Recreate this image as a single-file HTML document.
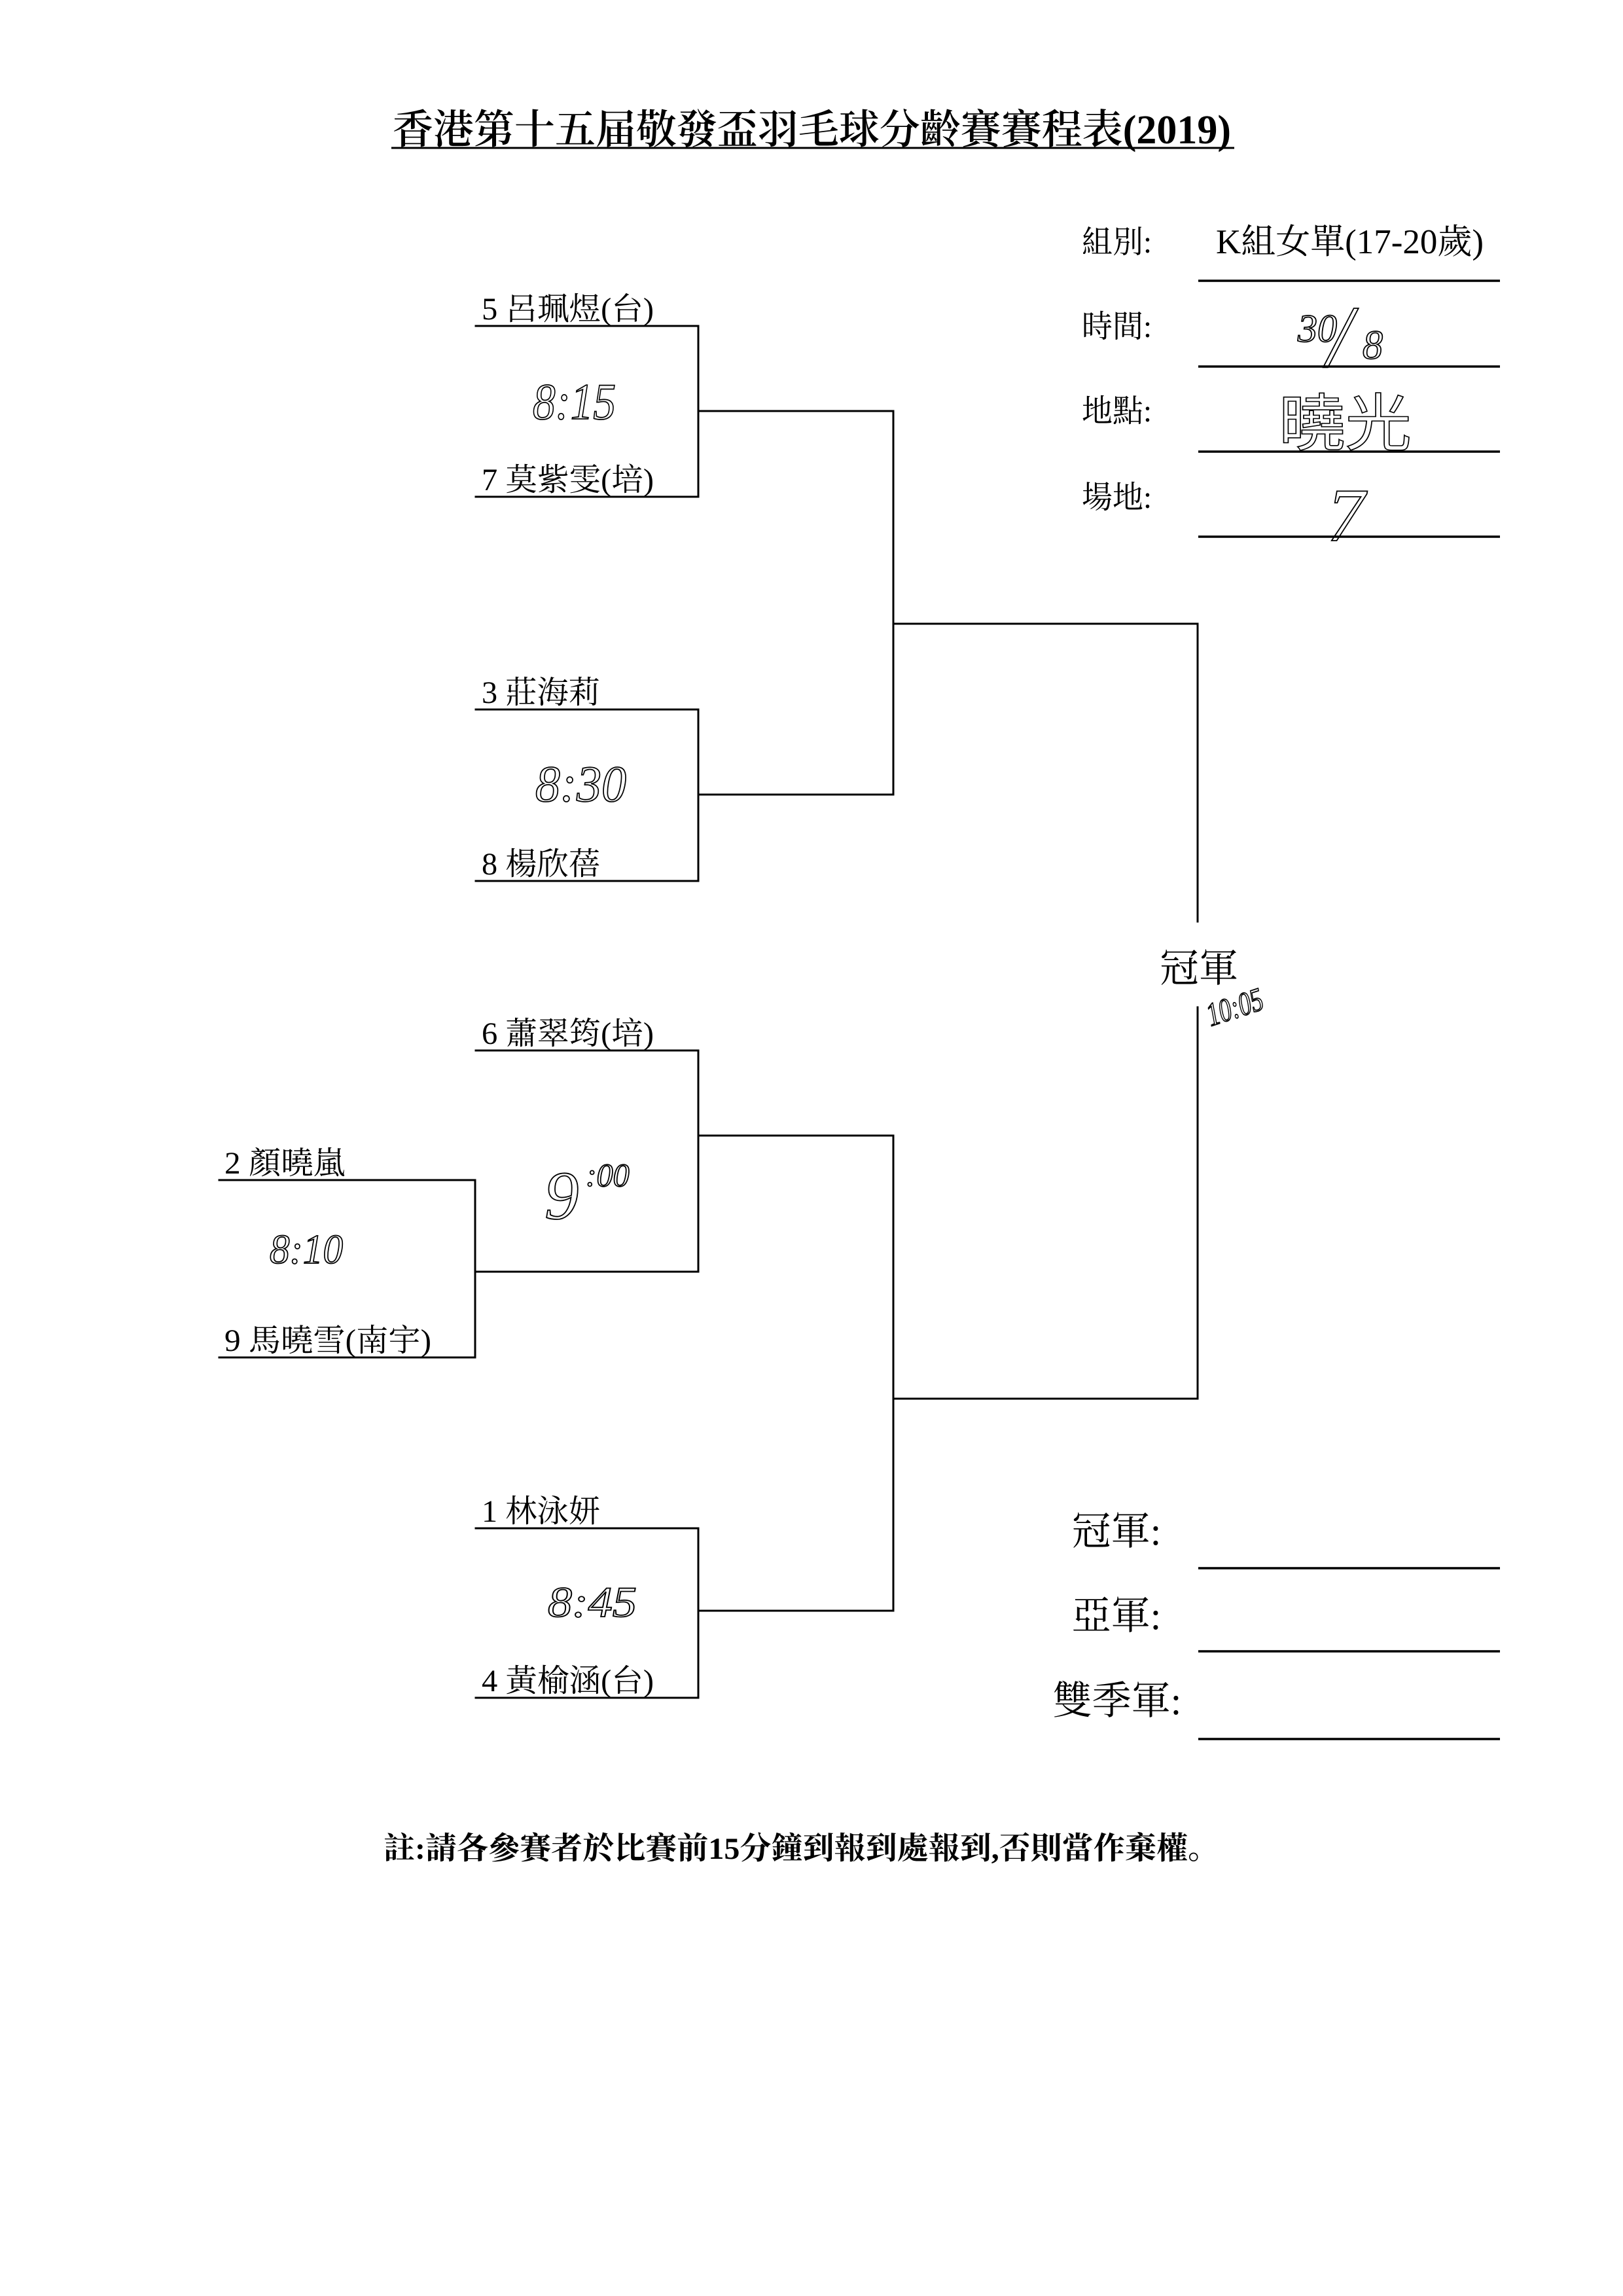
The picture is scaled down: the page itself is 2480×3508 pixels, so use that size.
<!DOCTYPE html>
<html>
<head>
<meta charset="utf-8">
<style>
  html, body { margin: 0; padding: 0; background: #fff; }
  body { width: 2480px; height: 3508px; overflow: hidden; }
  svg { display: block; }
  .t { font-family: "Liberation Serif", "Noto Serif CJK SC", "Noto Serif CJK TC", serif; fill: #000; }
  .hw { font-family: "Liberation Serif", serif; font-style: italic; fill: none; stroke: #000; stroke-width: 1.8; }
  .hwc { font-family: "Noto Sans CJK TC", "Noto Sans CJK SC", sans-serif; fill: none; stroke: #000; stroke-width: 1.6; }
</style>
</head>
<body>
<svg width="2480" height="3508" viewBox="0 0 2480 3508" xmlns="http://www.w3.org/2000/svg">
  <rect x="0" y="0" width="2480" height="3508" fill="#fff"/>

  <!-- Title -->
  <text class="t" x="600" y="219" font-size="62" font-weight="600" textLength="1281" lengthAdjust="spacingAndGlyphs">香港第十五届敬發盃羽毛球分齡賽賽程表(2019)</text>
  <line x1="598" y1="226" x2="1886" y2="226" stroke="#000" stroke-width="3"/>

  <!-- Info labels -->
  <text class="t" x="1653" y="386" font-size="48" textLength="107" lengthAdjust="spacingAndGlyphs">組別:</text>
  <text class="t" x="1858" y="387" font-size="53" textLength="409" lengthAdjust="spacingAndGlyphs">K組女單(17-20歲)</text>
  <text class="t" x="1653" y="515" font-size="48" textLength="107" lengthAdjust="spacingAndGlyphs">時間:</text>
  <text class="t" x="1653" y="644" font-size="48" textLength="107" lengthAdjust="spacingAndGlyphs">地點:</text>
  <text class="t" x="1653" y="776" font-size="48" textLength="107" lengthAdjust="spacingAndGlyphs">場地:</text>

  <g stroke="#000" stroke-width="3.5">
    <line x1="1831" y1="429" x2="2292" y2="429"/>
    <line x1="1831" y1="560" x2="2292" y2="560"/>
    <line x1="1831" y1="690" x2="2292" y2="690"/>
    <line x1="1831" y1="820" x2="2292" y2="820"/>
    <line x1="1831" y1="2396" x2="2292" y2="2396"/>
    <line x1="1831" y1="2523" x2="2292" y2="2523"/>
    <line x1="1831" y1="2657" x2="2292" y2="2657"/>
  </g>

  <!-- Handwriting in info area -->
  <text class="hw" x="1983" y="522" font-size="60">30</text>
  <text class="hw" x="2028" y="560" font-size="135">/</text>
  <text class="hw" x="2082" y="548" font-size="62">8</text>
  <text class="hwc" x="1954" y="680" font-size="95" textLength="203" lengthAdjust="spacingAndGlyphs">曉光</text>
  <text class="hw" x="2028" y="826" font-size="115">7</text>

  <!-- Bracket lines -->
  <g stroke="#000" stroke-width="3" fill="none" stroke-linecap="square">
    <!-- Pair A -->
    <path d="M727 498 H1067 V759 H727"/>
    <path d="M1067 628 H1365"/>
    <!-- Pair B -->
    <path d="M727 1084 H1067 V1346 H727"/>
    <path d="M1067 1214 H1365"/>
    <!-- Semi 1 -->
    <path d="M1365 628 V1214"/>
    <path d="M1365 953 H1830 V1408"/>
    <!-- Final lower -->
    <path d="M1830 1539 V2137 H1365"/>
    <!-- Pair C -->
    <path d="M727 1605 H1067 V1943 H726"/>
    <path d="M1067 1735 H1365 V2461"/>
    <!-- Sub pair -->
    <path d="M335 1803 H726 V2074 H335"/>
    <!-- Pair D -->
    <path d="M727 2335 H1067 V2594 H727"/>
    <path d="M1067 2461 H1365"/>
  </g>

  <!-- Player names -->
  <text class="t" x="736" y="488" font-size="48" textLength="263" lengthAdjust="spacingAndGlyphs">5 呂珮煜(台)</text>
  <text class="t" x="736" y="749" font-size="48" textLength="263" lengthAdjust="spacingAndGlyphs">7 莫紫雯(培)</text>
  <text class="t" x="736" y="1074" font-size="48" textLength="181" lengthAdjust="spacingAndGlyphs">3 莊海莉</text>
  <text class="t" x="736" y="1336" font-size="48" textLength="181" lengthAdjust="spacingAndGlyphs">8 楊欣蓓</text>
  <text class="t" x="736" y="1595" font-size="48" textLength="263" lengthAdjust="spacingAndGlyphs">6 蕭翠筠(培)</text>
  <text class="t" x="343" y="1793" font-size="48" textLength="185" lengthAdjust="spacingAndGlyphs">2 顏曉嵐</text>
  <text class="t" x="343" y="2064" font-size="48" textLength="316" lengthAdjust="spacingAndGlyphs">9 馬曉雪(南宇)</text>
  <text class="t" x="736" y="2325" font-size="48" textLength="181" lengthAdjust="spacingAndGlyphs">1 林泳妍</text>
  <text class="t" x="736" y="2584" font-size="48" textLength="263" lengthAdjust="spacingAndGlyphs">4 黃榆涵(台)</text>

  <!-- Handwritten times -->
  <text class="hw" x="814" y="640" font-size="78" textLength="127" lengthAdjust="spacingAndGlyphs">8:15</text>
  <text class="hw" x="818" y="1224" font-size="78" textLength="139" lengthAdjust="spacingAndGlyphs">8:30</text>
  <text class="hw" x="832" y="1862" font-size="105">9</text>
  <text class="hw" x="895" y="1812" font-size="50">:00</text>
  <text class="hw" x="412" y="1930" font-size="64" textLength="112" lengthAdjust="spacingAndGlyphs">8:10</text>
  <text class="hw" x="837" y="2470" font-size="66" textLength="136" lengthAdjust="spacingAndGlyphs">8:45</text>
  <text class="hw" x="1850" y="1568" font-size="50" textLength="88" lengthAdjust="spacingAndGlyphs" transform="rotate(-18 1850 1568)">10:05</text>

  <!-- Champion label in bracket -->
  <text class="t" x="1832" y="1500" font-size="60" text-anchor="middle">冠軍</text>

  <!-- Results labels -->
  <text class="t" x="1706" y="2360" font-size="60" text-anchor="middle">冠軍:</text>
  <text class="t" x="1706" y="2489" font-size="60" text-anchor="middle">亞軍:</text>
  <text class="t" x="1707" y="2619" font-size="60" text-anchor="middle">雙季軍:</text>

  <!-- Footer -->
  <text class="t" x="586" y="2840" font-size="47" font-weight="700" textLength="1277" lengthAdjust="spacingAndGlyphs">註:請各參賽者於比賽前15分鐘到報到處報到,否則當作棄權。</text>
</svg>
</body>
</html>
